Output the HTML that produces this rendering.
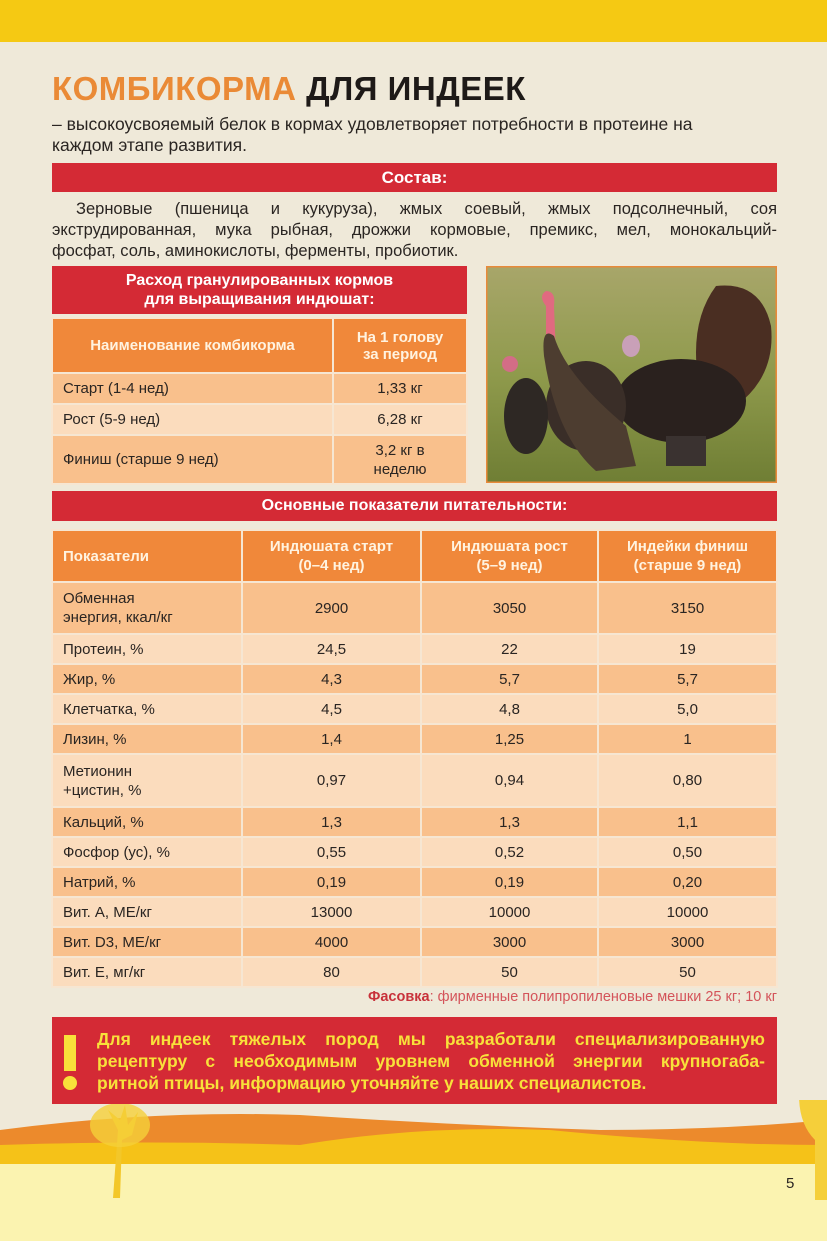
<!DOCTYPE html>
<html><head><meta charset="utf-8"><style>
*{margin:0;padding:0;box-sizing:border-box}
body{width:827px;height:1241px;background:#efe9d9;position:relative;overflow:hidden;font-family:"Liberation Sans","DejaVu Sans",sans-serif;color:#2a2522}
.abs{position:absolute}
.red{background:#d42a35;color:#fff;font-weight:bold;text-align:center}
table{border-collapse:collapse;position:absolute}
td{border:2px solid #f6e6d2;font-size:15px;padding:0 10px;color:#2a2522}
.h td{background:#f0883a;color:#fff3e0;font-weight:bold;text-align:center}
.d td{background:#f9c08c}
.l td{background:#fbdcbd}
td.c{text-align:center}
.j{display:block;text-align:justify;text-align-last:justify;white-space:nowrap}
.j2{display:block;white-space:nowrap}
</style></head><body>
<div class="abs" style="left:0;top:0;width:827px;height:42px;background:#f5c913"></div>
<div class="abs" style="left:52px;top:70px;font-size:33px;font-weight:bold;letter-spacing:0.5px"><span style="color:#ea8a36">КОМБИКОРМА</span> <span style="color:#1e1a18">ДЛЯ ИНДЕЕК</span></div>
<div class="abs" style="left:52px;top:114px;width:760px;font-size:17.5px;line-height:21px">– высокоусвояемый белок в кормах удовлетворяет потребности в протеине на<br>каждом этапе развития.</div>
<div class="abs red" style="left:52px;top:163px;width:725px;height:29px;font-size:17px;line-height:29px">Состав:</div>
<div class="abs" style="left:52px;top:199px;width:725px;font-size:16.5px;line-height:21px">
<span class="j" style="padding-left:24px">Зерновые (пшеница и кукуруза), жмых соевый, жмых подсолнечный, соя</span>
<span class="j">экструдированная, мука рыбная, дрожжи кормовые, премикс, мел, монокальций-</span>
<span class="j2">фосфат, соль, аминокислоты, ферменты, пробиотик.</span></div>
<div class="abs red" style="left:52px;top:266px;width:415px;height:48px;font-size:16px;line-height:19px;padding-top:5px">Расход гранулированных кормов<br>для выращивания индюшат:</div>
<table style="left:51px;top:317px;width:417px">
<tr class="h" style="height:55px"><td style="width:281px">Наименование комбикорма</td><td>На 1 голову<br>за период</td></tr>
<tr class="d" style="height:31px"><td>Старт (1-4 нед)</td><td class="c">1,33 кг</td></tr>
<tr class="l" style="height:31px"><td>Рост (5-9 нед)</td><td class="c">6,28 кг</td></tr>
<tr class="d" style="height:49px"><td>Финиш (старше 9 нед)</td><td class="c" style="line-height:19px">3,2 кг в<br>неделю</td></tr>
</table>
<svg class="abs" style="left:486px;top:266px" width="291" height="217">
<defs><linearGradient id="g" x1="0" y1="0" x2="0" y2="1"><stop offset="0" stop-color="#a8a66a"/><stop offset="0.5" stop-color="#8f9a4c"/><stop offset="1" stop-color="#6f7e34"/></linearGradient></defs>
<rect width="291" height="217" fill="url(#g)" stroke="#e88a3a" stroke-width="3"/>
<path d="M230 20 Q275 15 285 60 Q290 110 250 140 L215 130 Q200 60 230 20Z" fill="#4a2e22"/>
<ellipse cx="195" cy="135" rx="65" ry="42" fill="#2a211e"/>
<ellipse cx="145" cy="80" rx="9" ry="11" fill="#c9a0b8"/>
<ellipse cx="100" cy="140" rx="40" ry="45" fill="#3a2e28"/>
<path d="M60 40 Q52 30 60 25 Q70 25 68 40 L70 90 L60 95Z" fill="#e06a80"/>
<path d="M58 90 Q55 60 68 70 Q80 110 140 160 L150 200 L110 205 Q70 170 58 90Z" fill="#4d3d30"/>
<ellipse cx="40" cy="150" rx="22" ry="38" fill="#2e2824"/>
<circle cx="24" cy="98" r="8" fill="#d36d86"/>
<rect x="180" y="170" width="40" height="30" fill="#3a3230"/>
</svg>
<div class="abs red" style="left:52px;top:491px;width:725px;height:30px;font-size:16px;line-height:30px">Основные показатели питательности:</div>
<table style="left:51px;top:529px;width:727px">
<tr class="h" style="height:52px;line-height:19px"><td style="width:190px;text-align:left">Показатели</td><td style="width:179px">Индюшата старт<br>(0–4 нед)</td><td style="width:177px">Индюшата рост<br>(5–9 нед)</td><td>Индейки финиш<br>(старше 9 нед)</td></tr>
<tr class="d" style="height:52px;line-height:19px"><td>Обменная<br>энергия, ккал/кг</td><td class="c">2900</td><td class="c">3050</td><td class="c">3150</td></tr>
<tr class="l" style="height:30px"><td>Протеин, %</td><td class="c">24,5</td><td class="c">22</td><td class="c">19</td></tr>
<tr class="d" style="height:30px"><td>Жир, %</td><td class="c">4,3</td><td class="c">5,7</td><td class="c">5,7</td></tr>
<tr class="l" style="height:30px"><td>Клетчатка, %</td><td class="c">4,5</td><td class="c">4,8</td><td class="c">5,0</td></tr>
<tr class="d" style="height:30px"><td>Лизин, %</td><td class="c">1,4</td><td class="c">1,25</td><td class="c">1</td></tr>
<tr class="l" style="height:53px;line-height:19px"><td>Метионин<br>+цистин, %</td><td class="c">0,97</td><td class="c">0,94</td><td class="c">0,80</td></tr>
<tr class="d" style="height:30px"><td>Кальций, %</td><td class="c">1,3</td><td class="c">1,3</td><td class="c">1,1</td></tr>
<tr class="l" style="height:30px"><td>Фосфор (ус), %</td><td class="c">0,55</td><td class="c">0,52</td><td class="c">0,50</td></tr>
<tr class="d" style="height:30px"><td>Натрий, %</td><td class="c">0,19</td><td class="c">0,19</td><td class="c">0,20</td></tr>
<tr class="l" style="height:30px"><td>Вит. А, МЕ/кг</td><td class="c">13000</td><td class="c">10000</td><td class="c">10000</td></tr>
<tr class="d" style="height:30px"><td>Вит. D3, МЕ/кг</td><td class="c">4000</td><td class="c">3000</td><td class="c">3000</td></tr>
<tr class="l" style="height:30px"><td>Вит. Е, мг/кг</td><td class="c">80</td><td class="c">50</td><td class="c">50</td></tr>
</table>
<div class="abs" style="right:50px;top:989px;font-size:14.5px;color:#d4545a"><b style="color:#c8323b">Фасовка</b>: фирменные полипропиленовые мешки 25 кг; 10 кг</div>
<svg class="abs" style="left:0;top:1100px" width="827" height="141">
<path d="M0 30 Q150 10 300 15 Q450 25 600 30 Q720 30 827 20 L827 141 L0 141Z" fill="#ec8a2c"/>
<path d="M0 45 Q150 40 300 45 Q420 25 550 30 Q700 45 827 45 L827 141 L0 141Z" fill="#f5c218"/>
<rect x="0" y="64" width="827" height="77" fill="#fbf3b0"/>
<path d="M113 98 L118 30 L108 10 L120 20 L125 5 L128 25 L138 12 L132 35 L122 40 L120 98Z" fill="#f3c729"/>
<ellipse cx="120" cy="25" rx="30" ry="22" fill="#f5cf3a" opacity="0.8"/>
<path d="M815 100 L815 40 Q795 20 800 -20 L827 -60 L827 100Z" fill="#f5cf3a"/>
</svg>
<div class="abs red" style="left:52px;top:1017px;width:725px;height:87px;text-align:left;color:#f8e13a;font-size:17.5px;line-height:22px;padding:11px 12px 0 45px">
<span class="j">Для индеек тяжелых пород мы разработали специализированную</span>
<span class="j">рецептуру с необходимым уровнем обменной энергии крупногаба-</span>
<span class="j2">ритной птицы, информацию уточняйте у наших специалистов.</span></div>
<div class="abs" style="left:64px;top:1035px;width:12px;height:36px;background:#f8e13a"></div>
<div class="abs" style="left:63px;top:1076px;width:14px;height:14px;border-radius:50%;background:#f8e13a"></div>
<div class="abs" style="left:786px;top:1175px;font-size:15px">5</div>
</body></html>
